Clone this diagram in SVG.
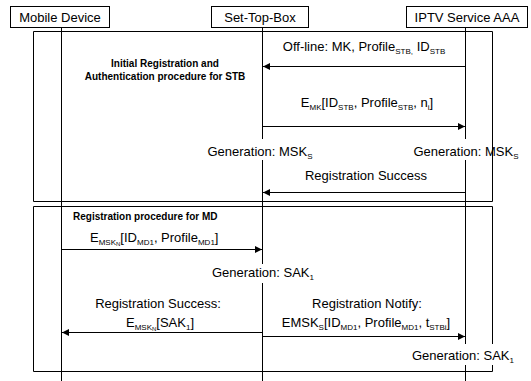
<svg xmlns="http://www.w3.org/2000/svg" width="531" height="381" viewBox="0 0 531 381">
  <defs>
    <marker id="arrow" viewBox="0 0 10 10" refX="10" refY="5" markerWidth="9" markerHeight="7" markerUnits="userSpaceOnUse" orient="auto">
      <path d="M0,0 L10,5 L0,10 Z" fill="#000"/>
    </marker>
  </defs>
  <style>
    .box { fill: #fff; stroke: #000; stroke-width: 1; }
    .frame { fill: none; stroke: #000; stroke-width: 1; }
    .line { stroke: #000; stroke-width: 1; fill: none; }
    .msg { stroke: #000; stroke-width: 1; fill: none; marker-end: url(#arrow); }
    text { font-family: "Liberation Sans", Arial, sans-serif; font-size: 13px; fill: #000; }
    .title { font-size: 10px; font-weight: bold; }
    .sub { font-size: 8px; }
    .subsub { font-size: 6px; }
  </style>

  <rect width="531" height="381" fill="#fff"/>

  <!-- procedure frames -->
  <g id="frames">
    <path class="frame" d="M33.5,201.5 V31.5 H492.5 V201.5 Z"/>
    <path class="frame" d="M492.5,344 V206.5 H33.5 V371.5 H492.5 V365"/>
  </g>

  <!-- lifelines -->
  <g id="lifelines">
    <line class="line" x1="61.5" y1="28" x2="61.5" y2="381"/>
    <path class="line" d="M262.5,28 V139 M262.5,160 V264 M262.5,283 V381"/>
    <path class="line" d="M465.5,28 V139 M465.5,160 V344 M465.5,365 V381"/>
  </g>

  <!-- participants -->
  <g id="mobile-device">
    <rect class="box" x="10.5" y="6.5" width="99" height="21"/>
    <text x="60" y="22" text-anchor="middle">Mobile Device</text>
  </g>
  <g id="set-top-box">
    <rect class="box" x="211.5" y="6.5" width="97" height="21"/>
    <text x="260" y="22" text-anchor="middle">Set-Top-Box</text>
  </g>
  <g id="iptv-aaa">
    <rect class="box" x="406.5" y="6.5" width="121" height="21"/>
    <text x="467" y="22" text-anchor="middle">IPTV Service AAA</text>
  </g>

  <!-- frame titles -->
  <g id="stb-procedure-title">
    <text class="title" x="165" y="67" text-anchor="middle">Initial Registration and</text>
    <text class="title" x="165" y="80" text-anchor="middle">Authentication procedure for STB</text>
  </g>
  <g id="md-procedure-title">
    <text class="title" x="73" y="220">Registration procedure for MD</text>
  </g>

  <!-- messages -->
  <g id="connectors">
    <line class="msg" x1="465.5" y1="66.5" x2="263" y2="66.5"/>
    <line class="msg" x1="262.5" y1="126.5" x2="465" y2="126.5"/>
    <line class="msg" x1="465.5" y1="192.5" x2="263" y2="192.5"/>
    <line class="msg" x1="61.5" y1="249.5" x2="262" y2="249.5"/>
    <line class="msg" x1="262.5" y1="332.5" x2="62" y2="332.5"/>
    <line class="msg" x1="262.5" y1="336.5" x2="465" y2="336.5"/>
  </g>

  <!-- message labels -->
  <g id="labels">
    <text x="364" y="51" text-anchor="middle">Off-line: MK, Profile<tspan class="sub" dy="3">STB,</tspan><tspan dy="-3"> ID</tspan><tspan class="sub" dy="3">STB</tspan></text>

    <text x="367" y="107" text-anchor="middle">E<tspan class="sub" dy="3">MK</tspan><tspan dy="-3">[ID</tspan><tspan class="sub" dy="3">STB</tspan><tspan dy="-3">, Profile</tspan><tspan class="sub" dy="3">STB</tspan><tspan dy="-3">, n</tspan><tspan class="sub" dy="3">i</tspan><tspan dy="-3">]</tspan></text>

    <text x="260" y="156" text-anchor="middle">Generation: MSK<tspan class="sub" dy="3">S</tspan></text>
    <text x="466" y="156" text-anchor="middle">Generation: MSK<tspan class="sub" dy="3">S</tspan></text>

    <text x="366" y="180" text-anchor="middle">Registration Success</text>

    <text x="90" y="242">E<tspan class="sub" dy="3">MSK</tspan><tspan class="subsub" dy="1">N</tspan><tspan dy="-4">[ID</tspan><tspan class="sub" dy="3">MD1</tspan><tspan dy="-3">, Profile</tspan><tspan class="sub" dy="3">MD1</tspan><tspan dy="-3">]</tspan></text>

    <text x="263" y="277" text-anchor="middle">Generation: SAK<tspan class="sub" dy="3">1</tspan></text>

    <text x="158" y="308" text-anchor="middle">Registration Success:</text>
    <text x="160" y="327" text-anchor="middle">E<tspan class="sub" dy="3">MSK</tspan><tspan class="subsub" dy="1">N</tspan><tspan dy="-4">[SAK</tspan><tspan class="sub" dy="3">1</tspan><tspan dy="-3">]</tspan></text>

    <text x="367" y="308" text-anchor="middle">Registration Notify:</text>
    <text x="366" y="327" text-anchor="middle">EMSK<tspan class="sub" dy="3">S</tspan><tspan dy="-3">[ID</tspan><tspan class="sub" dy="3">MD1</tspan><tspan dy="-3">, Profile</tspan><tspan class="sub" dy="3">MD1</tspan><tspan dy="-3">, t</tspan><tspan class="sub" dy="3">STBi</tspan><tspan dy="-3">]</tspan></text>

    <text x="463" y="360" text-anchor="middle">Generation: SAK<tspan class="sub" dy="3">1</tspan></text>
  </g>
</svg>
